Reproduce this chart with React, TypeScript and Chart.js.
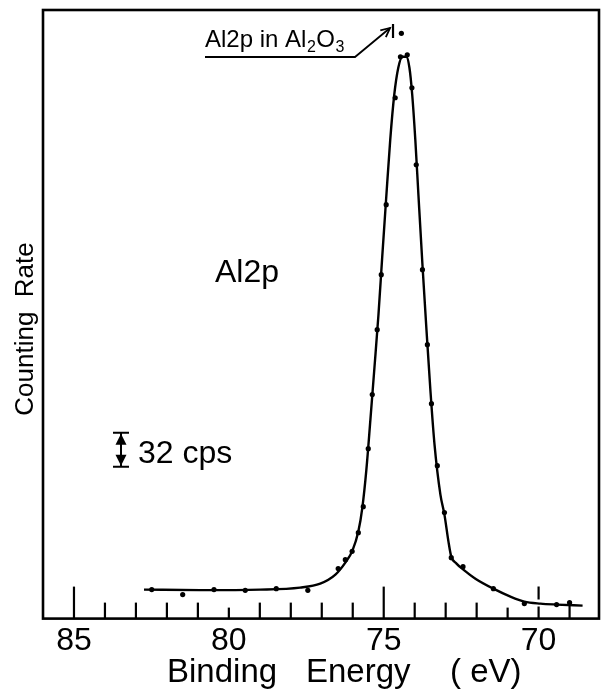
import React, { useEffect, useRef } from 'react';
import { Chart, registerables } from 'chart.js';

Chart.register(...registerables);

// Smooth fitted curve (binding energy eV, counting rate cps)
const FIT_EV = [82.74, 80.93, 78.99, 77.70, 77.05, 76.56, 76.24, 76.01, 75.82, 75.69, 75.56, 75.43, 75.30, 75.17, 75.05, 74.92, 74.79, 74.66, 74.53, 74.40, 74.27, 74.17, 74.08, 73.98, 73.88, 73.75, 73.62, 73.49, 73.36, 73.17, 73.04, 72.91, 72.82, 72.65, 72.43, 72.04, 71.46, 70.91, 70.46, 69.94, 69.42, 68.58];
const FIT_CPS = [27.3, 26.8, 27.3, 29.2, 32.9, 41.4, 52.7, 64.0, 81.9, 104.5, 140.2, 187.3, 236.2, 286.1, 339.8, 396.2, 450.8, 493.2, 518.6, 529.0, 529.0, 518.6, 493.2, 450.8, 399.1, 333.2, 272.0, 213.6, 163.8, 116.7, 97.9, 72.5, 58.4, 51.8, 46.1, 37.6, 28.2, 20.7, 16.0, 14.1, 13.2, 12.2];

// Measured points
const DOT_EV = [82.49, 81.49, 80.48, 79.47, 78.47, 77.45, 76.47, 76.24, 76.02, 75.82, 75.66, 75.50, 75.37, 75.21, 75.08, 74.92, 74.63, 74.46, 74.24, 74.09, 73.95, 73.75, 73.59, 73.46, 73.27, 73.04, 72.82, 72.44, 71.46, 70.46, 69.42, 69.00];
const DOT_CPS = [27.3, 22.6, 27.3, 26.6, 28.2, 26.6, 47.1, 55.5, 63.3, 80.9, 105.4, 160.0, 211.0, 272.0, 323.8, 389.7, 490.4, 529.0, 530.8, 499.8, 427.3, 328.5, 257.9, 202.4, 144.0, 99.8, 57.4, 48.9, 28.2, 14.1, 13.2, 15.1];

// Isolated point beside the reference mark
const EXTRA_EV = [74.43];
const EXTRA_CPS = [551];

// Axis
const X_MIN = 68.05;
const X_MAX = 86.0;
const Y_MIN = 0;
const Y_MAX = 573;
const X_TICK_LABELS = [85, 80, 75, 70];
const MINOR_TICKS = [69, 70, 71, 72, 73, 74, 75, 76, 77, 78, 79, 80, 81, 82, 83, 84, 85];
const TALL_TICKS = [85, 75, 70];
const SHORT_TICKS = [80, 71];
const DASHED_TICKS = [70];

// Annotations
const AL2O3_EV = 74.7;
const SCALE_BAR_BASE = 143;
const SCALE_BAR_CPS = 32;

const FONT = '"Liberation Sans", Arial, sans-serif';

const decorPlugin = {
  id: 'decor',
  afterDraw(chart: any) {
    const { ctx, chartArea } = chart;
    const xs = chart.scales.x;
    const ys = chart.scales.y;
    const { left, top, right, bottom } = chartArea;
    ctx.save();
    ctx.strokeStyle = '#000';
    ctx.fillStyle = '#000';

    // frame
    ctx.lineWidth = 2.6;
    ctx.strokeRect(left, top, right - left, bottom - top);

    // inner ticks
    ctx.lineWidth = 2.2;
    MINOR_TICKS.forEach((v) => {
      const px = xs.getPixelForValue(v);
      let len = 16;
      if (TALL_TICKS.includes(v)) len = 32;
      if (SHORT_TICKS.includes(v)) len = 11;
      ctx.beginPath();
      if (DASHED_TICKS.includes(v)) ctx.setLineDash([13, 7]);
      else ctx.setLineDash([]);
      ctx.moveTo(px, bottom - len);
      ctx.lineTo(px, bottom);
      ctx.stroke();
    });
    ctx.setLineDash([]);

    // reference mark for Al2p in Al2O3
    const refX = xs.getPixelForValue(AL2O3_EV);
    ctx.lineWidth = 2.2;
    ctx.beginPath();
    ctx.moveTo(refX, top + 14);
    ctx.lineTo(refX, top + 28);
    ctx.stroke();

    // annotation text with subscripts
    ctx.textBaseline = 'alphabetic';
    ctx.textAlign = 'left';
    const base = 47;
    let tx0 = 205;
    const main = `24px ${FONT}`;
    const sub = `16px ${FONT}`;
    const parts: [string, string, number][] = [
      ['Al2p in Al', main, 0],
      ['2', sub, 5],
      ['O', main, 0],
      ['3', sub, 5],
    ];
    parts.forEach(([s, f, dy]) => {
      ctx.font = f;
      ctx.fillText(s, tx0, base + dy);
      tx0 += ctx.measureText(s).width + 0.5;
    });

    // underline + arrow
    ctx.lineWidth = 1.8;
    const sx = 355, sy = 57;
    const tx = refX - 3, ty = top + 18;
    ctx.beginPath();
    ctx.moveTo(205, sy);
    ctx.lineTo(sx, sy);
    ctx.lineTo(tx, ty);
    ctx.stroke();
    const ang = Math.atan2(ty - sy, tx - sx);
    ctx.beginPath();
    ctx.moveTo(tx + 10 * Math.cos(ang + Math.PI - 0.45), ty + 10 * Math.sin(ang + Math.PI - 0.45));
    ctx.lineTo(tx, ty);
    ctx.lineTo(tx + 10 * Math.cos(ang + Math.PI + 0.45), ty + 10 * Math.sin(ang + Math.PI + 0.45));
    ctx.stroke();

    // "Al2p" label
    ctx.font = `32px ${FONT}`;
    ctx.fillText('Al2p', 215, 282);

    // scale bar
    const yTop = ys.getPixelForValue(SCALE_BAR_BASE + SCALE_BAR_CPS);
    const yBot = ys.getPixelForValue(SCALE_BAR_BASE);
    const cx = 121;
    ctx.lineWidth = 2;
    ctx.beginPath();
    ctx.moveTo(cx - 8, yTop);
    ctx.lineTo(cx + 8, yTop);
    ctx.moveTo(cx - 8, yBot);
    ctx.lineTo(cx + 8, yBot);
    ctx.moveTo(cx, yTop);
    ctx.lineTo(cx, yBot);
    ctx.stroke();
    ctx.beginPath();
    ctx.moveTo(cx, yTop + 1);
    ctx.lineTo(cx - 5.5, yTop + 12);
    ctx.lineTo(cx + 5.5, yTop + 12);
    ctx.closePath();
    ctx.fill();
    ctx.beginPath();
    ctx.moveTo(cx, yBot - 1);
    ctx.lineTo(cx - 5.5, yBot - 12);
    ctx.lineTo(cx + 5.5, yBot - 12);
    ctx.closePath();
    ctx.fill();
    ctx.font = `32px ${FONT}`;
    ctx.fillText('32 cps', 138, 463);

    // x title
    ctx.font = `33px ${FONT}`;
    ctx.fillText('Binding', 167, 682);
    ctx.fillText('Energy', 306, 682);
    ctx.fillText('( eV)', 450, 682);

    // y title
    ctx.save();
    ctx.translate(33, 329);
    ctx.rotate(-Math.PI / 2);
    ctx.textAlign = 'center';
    ctx.font = `26px ${FONT}`;
    ctx.fillText('Counting  Rate', 0, 0);
    ctx.restore();

    ctx.restore();
  },
};

export default function App() {
  const ref = useRef<HTMLCanvasElement | null>(null);

  useEffect(() => {
    if (!ref.current) return;
    const fit = FIT_EV.map((x, i) => ({ x, y: FIT_CPS[i] }));
    const dots = DOT_EV.map((x, i) => ({ x, y: DOT_CPS[i] }));
    const extra = EXTRA_EV.map((x, i) => ({ x, y: EXTRA_CPS[i] }));
    const chart = new Chart(ref.current, {
      type: 'line',
      data: {
        datasets: [
          {
            label: 'fit',
            data: fit,
            borderColor: '#000',
            borderWidth: 2.4,
            pointRadius: 0,
            cubicInterpolationMode: 'monotone',
            fill: false,
          },
          {
            label: 'points',
            data: dots,
            showLine: false,
            pointRadius: 2.6,
            pointBackgroundColor: '#000',
            pointBorderWidth: 0,
          },
          {
            label: 'extra',
            data: extra,
            showLine: false,
            pointRadius: 2.6,
            pointBackgroundColor: '#000',
            pointBorderWidth: 0,
            clip: false as any,
          },
        ],
      },
      options: {
        animation: false,
        responsive: false,
        events: [],
        layout: { padding: { left: 43, top: 10, right: 6, bottom: 28 } },
        plugins: { legend: { display: false }, tooltip: { enabled: false } },
        scales: {
          x: {
            type: 'linear',
            reverse: true,
            min: X_MIN,
            max: X_MAX,
            grid: { display: false, drawTicks: false },
            border: { display: false },
            afterBuildTicks: (scale: any) => {
              scale.ticks = X_TICK_LABELS.map((v) => ({ value: v }));
            },
            ticks: {
              padding: 3,
              color: '#000',
              font: { family: FONT, size: 32 },
              maxRotation: 0,
              autoSkip: false,
              callback: (v: any) => String(v),
            },
          },
          y: {
            type: 'linear',
            display: false,
            min: Y_MIN,
            max: Y_MAX,
          },
        },
      },
      plugins: [decorPlugin],
    });
    return () => chart.destroy();
  }, []);

  return (
    <div style={{ position: 'fixed', left: 0, top: 0, width: 605, height: 691, background: '#fff' }}>
      <canvas ref={ref} width={605} height={691} />
    </div>
  );
}
